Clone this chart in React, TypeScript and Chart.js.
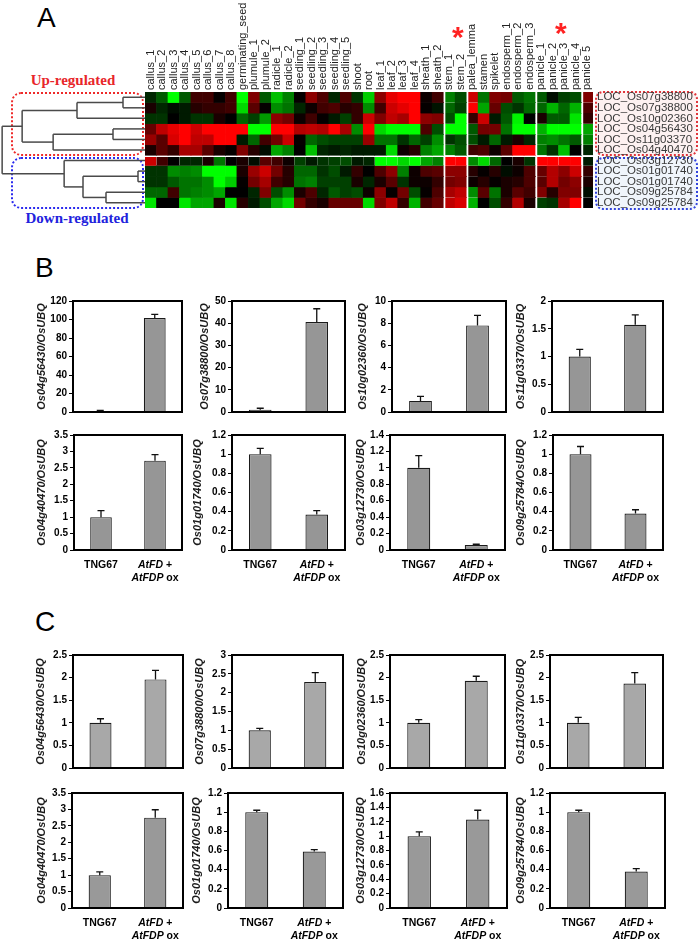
import React, { useEffect, useRef } from 'react';
import { Chart, registerables } from 'chart.js';
Chart.register(...registerables);

const FONT = '"Liberation Sans", Arial, Helvetica, sans-serif';
Chart.defaults.font.family = FONT;
Chart.defaults.color = '#000';

// ---------- Panel A: heatmap data ----------
const tissueLabels = [
  'callus_1', 'callus_2', 'callus_3', 'callus_4', 'callus_5', 'callus_6', 'callus_7', 'callus_8',
  'germinating_seed', 'plumule_1', 'plumule_2', 'radicle_1', 'radicle_2',
  'seedling_1', 'seedling_2', 'seedling_3', 'seedling_4', 'seedling_5', 'shoot', 'root',
  'leaf_1', 'leaf_2', 'leaf_3', 'leaf_4', 'sheath_1', 'sheath_2', 'stem_1', 'stem_2',
  'palea_lemma', 'stamen', 'spikelet', 'endosperm_1', 'endosperm_2', 'endosperm_3',
  'panicle_1', 'panicle_2', 'panicle_3', 'panicle_4', 'panicle 5',
];
const blockStarts = ['stem_1', 'palea_lemma', 'panicle_1', 'panicle 5'];
const geneLabels = [
  'LOC_Os07g38800', 'LOC_Os07g38800', 'LOC_Os10g02360', 'LOC_Os04g56430', 'LOC_Os11g03370', 'LOC_Os04g40470',
  'LOC_Os03g12730', 'LOC_Os01g01740', 'LOC_Os01g01740', 'LOC_Os09g25784', 'LOC_Os09g25784',
];
// relative expression (-1 = strongest green, +1 = strongest red)
const heatRows = [
  [-0.15, -0.35, -1, -0.35, 0.25, 0.25, 0.02, 0.25, -1, 0.5, -0.35, -0.75, -0.5, 0.02, 0.55, 0.3, -0.15, 0.3, -0.2, -0.8, 0.55, 0.9, 1, 1, 0.05, 0.25, -0.5, -0.3, 0.8, -0.45, 0.5, 0.45, -0.35, -0.45, -0.35, -0.05, -0.25, -0.3, 0.5],
  [0.1, -0.15, -0.05, -0.1, 0.15, 0.2, 0.2, 0.25, -0.85, 0.35, 0.02, -0.55, -0.45, -0.15, 0.05, 0.25, 0.3, 0.15, 0.2, -0.55, 0.25, 0.8, 0.9, 1, 0.02, -0.08, -0.4, -0.25, 1, -0.65, 0.4, -0.3, -0.2, -0.4, -0.4, -0.7, -0.4, -0.7, 0.3],
  [-0.2, -0.2, 0, -0.1, -0.2, -0.2, 0.1, 0, -0.4, -0.25, -0.6, 0.55, 0.45, 0.05, 0.25, 0.02, -0.1, -0.25, 0.2, 0.8, 0.5, 0.75, 0.65, 1, 0.55, 0.5, -0.3, -1, 0.2, 0.8, -0.1, -0.35, -0.95, 0, 0.1, -0.35, -0.35, -0.9, 0.2],
  [0.4, 0.75, 0.9, 1, 0.8, 1, 1, 1, 1, -1, -1, 1, 1, 0.7, 0.75, 0.7, 1, 0.65, -0.55, 1, -0.85, -1, -1, -1, 0.3, -0.3, -1, -1, -0.35, 0.45, 0.45, -0.45, -1, -1, -0.7, -1, -1, -1, -0.65],
  [0.6, 0.35, 0.85, 1, 0.75, 0.75, 1, 1, -0.1, -0.4, 0.25, 0.45, 0.8, 0.02, -0.4, -0.3, -0.25, -0.25, -0.25, 0.6, -0.45, -0.45, -0.2, -0.4, -0.25, -0.55, -0.2, -0.3, -0.3, -0.1, -0.4, -0.1, 0.1, -0.15, -0.5, -0.55, -0.45, -0.35, -0.5],
  [0.1, 0.35, 0.2, 0.65, 0.65, 0.35, 0.1, 0.02, 0.5, 0.15, -0.05, -0.65, -0.5, 0, -0.75, -0.15, -0.1, -0.15, -0.1, -0.1, -0.1, -0.85, 0.05, 0.15, -0.5, -0.65, -0.5, -0.35, 0.25, 0.3, 0.05, 0.35, 1, 1, -0.45, -0.2, -0.75, 0, -0.15],
  [0.8, 0.25, 0, -0.15, -0.15, 0.1, -0.45, 0, 0.1, -0.05, 0.35, 0.25, 0.05, -0.25, -0.1, -0.2, -0.25, -0.3, -0.1, -0.15, -1, -1, -0.85, -1, -0.65, -0.5, 1, 1, -0.55, -0.85, -0.4, 0, 0.1, -0.2, 1, 1, 1, 1, -0.1],
  [-0.2, -0.2, -0.55, -0.5, -0.55, -1, -1, -1, 0.1, 0.6, 0.8, 0.45, 0.15, -0.4, -0.4, -0.2, -0.3, -0.1, 0.2, 0, 0.3, 0.55, -0.5, 0.05, 0.3, 0.35, 0.55, 0.55, 0.15, 0.02, 0.15, -0.05, 0.05, 0.3, 0.4, 0.7, 0.55, 0.8, 0.2],
  [-0.2, -0.2, -0.35, -0.45, -0.45, -0.55, -1, -0.8, 0.02, 0.45, 0.65, 0.25, 0.15, -0.45, -0.5, -0.25, -0.25, -0.25, 0.1, -0.15, 0.1, 0.35, -0.2, 0.05, 0.05, 0.2, 0.45, 0.5, 0.05, 0.15, 0.02, 0.1, 0.15, 0.3, 0.35, 0.7, 0.45, 0.55, 0.1],
  [-0.4, -0.4, 0.25, -0.45, -0.5, -0.55, -0.65, 0, 0, -0.15, 0.5, -0.3, -0.55, 0.1, 0.3, -0.15, -0.35, -0.25, -0.3, 0.05, 0.55, 0.02, 0.45, -0.3, 0.02, 0.3, 0.65, 0.75, -0.55, 0.35, -0.45, 0.1, 0.35, 0.25, 0.5, 0.15, 0.5, 0.5, -0.05],
  [-0.9, 0, 0, -0.9, -0.65, -0.65, 0.1, -0.9, 0.15, -0.1, -0.3, -0.65, -0.85, 0.45, 0.2, 0.1, 0.4, 0.4, 0.4, -0.85, 0.5, 0.75, 0.2, -0.7, 0.25, 0.4, 0.75, 0.85, -0.7, 0, -0.3, 0.2, 0.7, 0.1, -0.25, -0.2, 0.65, 1, 0],
];
// dendrogram merges: [childA, childB, merge height]; leaves are rows 0..10
const dendroMerges = [
  [0, 1, 0.154], [11, 2, 0.476], [3, 4, 0.224], [13, 5, 0.643], [12, 14, 0.86],
  [7, 8, 0.049], [9, 10, 0.273], [16, 17, 0.434], [6, 18, 0.566], [15, 19, 1.0],
];

// ---------- Panels B / C: qRT-PCR data ----------
const groupNames = ['TNG67', 'AtFD + AtFDP ox'];
const groupLabelParts = [
  [[['TNG67', false]]],
  [[['AtFD', true], [' +', false]], [['AtFDP', true], [' ox', false]]],
];
const genes = ['Os04g56430', 'Os07g38800', 'Os10g02360', 'Os11g03370', 'Os04g40470', 'Os01g01740', 'Os03g12730', 'Os09g25784'];

const tngB = [1, 1, 1, 1, 1, 1, 1, 1];
const tngErrB = [0.8, 0.7, 0.4, 0.13, 0.2, 0.06, 0.15, 0.08];
const oxB = [101.5, 40.5, 7.8, 1.57, 2.72, 0.37, 0.06, 0.38];
const oxErrB = [4, 6, 0.9, 0.18, 0.18, 0.04, 0.01, 0.04];
const yMaxB = [120, 50, 10, 2, 3.5, 1.2, 1.4, 1.2];
const yStepB = [20, 10, 2, 0.5, 0.5, 0.2, 0.2, 0.2];

const tngC = [1, 1, 1, 1, 1, 1, 1, 1];
const tngErrC = [0.09, 0.05, 0.07, 0.12, 0.1, 0.02, 0.06, 0.02];
const oxC = [1.96, 2.28, 1.93, 1.87, 2.75, 0.59, 1.23, 0.38];
const oxErrC = [0.2, 0.25, 0.1, 0.24, 0.24, 0.02, 0.13, 0.03];
const yMaxC = [2.5, 3, 2.5, 2.5, 3.5, 1.2, 1.6, 1.2];
const yStepC = [0.5, 0.5, 0.5, 0.5, 0.5, 0.2, 0.2, 0.2];

// ---------- layout (pixel geometry, not data) ----------
const geoB = [
  { l: 73, r: 182, t: 301, b: 417, tx: 42 }, { l: 232, r: 345, t: 301, b: 417, tx: 205 },
  { l: 392, r: 506, t: 301, b: 417, tx: 363 }, { l: 552, r: 663, t: 301, b: 417, tx: 521 },
  { l: 74, r: 182, t: 435, b: 550, tx: 42 }, { l: 232, r: 345, t: 435, b: 550, tx: 198 },
  { l: 390, r: 505, t: 435, b: 550, tx: 361 }, { l: 553, r: 663, t: 435, b: 550, tx: 521 },
];
const geoC = [
  { l: 73, r: 183, t: 655, b: 773, tx: 41 }, { l: 232, r: 343, t: 655, b: 773, tx: 200 },
  { l: 390, r: 505, t: 655, b: 773, tx: 362 }, { l: 550, r: 663, t: 655, b: 773, tx: 521 },
  { l: 72, r: 183, t: 793, b: 908, tx: 42 }, { l: 228, r: 343, t: 793, b: 908, tx: 197 },
  { l: 390, r: 507, t: 793, b: 908, tx: 361 }, { l: 550, r: 665, t: 793, b: 908, tx: 521 },
];

function heatColor(v: number) {
  const m = Math.round(Math.min(1, Math.abs(v)) * 255);
  return v >= 0 ? `rgb(${m},0,0)` : `rgb(0,${m},0)`;
}

const HM_LEFT = 125; // canvas left; chart area starts at 145

function Heatmap() {
  const ref = useRef<HTMLCanvasElement>(null);
  useEffect(() => {
    const gapIdx = blockStarts.map((n) => tissueLabels.indexOf(n));
    const datasets = heatRows.map((row, r) => ({
      data: row.map(() => 1),
      backgroundColor: row.map(heatColor),
      borderColor: '#ffffff',
      borderWidth: (ctx: any) => ({
        left: gapIdx.includes(ctx.dataIndex) ? 2 : 0,
        top: r === 6 ? 2 : 0,
        right: 0,
        bottom: 0,
      }),
      borderSkipped: false,
      barPercentage: 1,
      categoryPercentage: 1,
    }));
    const chart = new Chart(ref.current as HTMLCanvasElement, {
      type: 'bar',
      data: { labels: tissueLabels, datasets: datasets as any },
      options: {
        responsive: false,
        animation: false,
        layout: { padding: { top: 0, right: 0, bottom: 4, left: 145 - HM_LEFT } },
        plugins: { legend: { display: false }, tooltip: { enabled: false } },
        scales: {
          x: {
            position: 'top',
            stacked: true,
            grid: { display: false, drawTicks: false },
            border: { display: false },
            ticks: { autoSkip: false, maxRotation: 90, minRotation: 90, padding: 2, labelOffset: 13.2, font: { size: 11 }, color: '#222' },
            afterFit: (s: any) => { s.height = 92; s.paddingLeft = 0; s.paddingRight = 0; },
          },
          y: {
            position: 'right',
            stacked: true,
            min: 0,
            max: 11,
            reverse: true,
            grid: { display: false, drawTicks: false },
            border: { display: false },
            afterBuildTicks: (s: any) => { s.ticks = geneLabels.map((_, i) => ({ value: i + 0.5 })); },
            ticks: { autoSkip: false, callback: (_v: any, i: number) => geneLabels[i], padding: 4, font: { size: 11.5 }, color: '#3a3a3a' },
            afterFit: (s: any) => { s.width = 107; s.paddingTop = 0; s.paddingBottom = 0; },
          },
        },
      } as any,
    });
    return () => chart.destroy();
  }, []);
  const w = 700 - HM_LEFT;
  return <canvas ref={ref} width={w} height={212} style={{ position: 'absolute', left: HM_LEFT, top: 0, width: w, height: 212 }} />;
}

function Dendrogram() {
  const ref = useRef<HTMLCanvasElement>(null);
  useEffect(() => {
    const pos: Record<number, { h: number; y: number }> = {};
    geneLabels.forEach((_, i) => { pos[i] = { h: 0, y: i + 0.5 }; });
    const segs: { x: number; y: number }[][] = [];
    dendroMerges.forEach(([a, b, h], k) => {
      const A = pos[a], B = pos[b];
      segs.push([{ x: A.h, y: A.y }, { x: h, y: A.y }]);
      segs.push([{ x: B.h, y: B.y }, { x: h, y: B.y }]);
      segs.push([{ x: h, y: A.y }, { x: h, y: B.y }]);
      pos[geneLabels.length + k] = { h, y: (A.y + B.y) / 2 };
    });
    const chart = new Chart(ref.current as HTMLCanvasElement, {
      type: 'scatter',
      data: {
        datasets: segs.map((s) => ({
          data: s, showLine: true, borderColor: '#4a4a4a', borderWidth: 1.5, pointRadius: 0, fill: false,
        })),
      },
      options: {
        responsive: false,
        animation: false,
        layout: { padding: 0 },
        plugins: { legend: { display: false }, tooltip: { enabled: false } },
        scales: {
          x: { type: 'linear', min: 0, max: 1.015, reverse: true, display: false },
          y: { type: 'linear', min: 0, max: 11, reverse: true, display: false },
        },
      } as any,
    });
    return () => chart.destroy();
  }, []);
  return <canvas ref={ref} width={145} height={116} style={{ position: 'absolute', left: 0, top: 92, width: 145, height: 116 }} />;
}

type PanelProps = {
  gene: string; tng: number; ox: number; tngErr: number; oxErr: number; max: number; step: number;
  g: { l: number; r: number; t: number; b: number; tx: number }; labels: boolean; color: string;
};

function BarPanel(p: PanelProps) {
  const ref = useRef<HTMLCanvasElement>(null);
  const cl = Math.round(p.g.tx - 6.6);
  const ct = p.g.t - 8;
  const padB = p.labels ? 34 : 3;
  const padR = 3;
  const w = p.g.r - cl + padR;
  const h = p.g.b - ct + padB;
  const axisW = p.g.l - cl;
  useEffect(() => {
    const vals = [p.tng, p.ox];
    const errs = [p.tngErr, p.oxErr];
    const errPlugin = {
      id: 'errbars',
      afterDatasetsDraw(chart: any) {
        const ctx = chart.ctx;
        const ys = chart.scales.y;
        const meta = chart.getDatasetMeta(0);
        ctx.save();
        ctx.strokeStyle = '#111';
        ctx.lineWidth = 1.3;
        meta.data.forEach((bar: any, i: number) => {
          const yTop = ys.getPixelForValue(vals[i] + errs[i]);
          ctx.beginPath();
          ctx.moveTo(bar.x, bar.y);
          ctx.lineTo(bar.x, yTop);
          ctx.moveTo(bar.x - 3.5, yTop);
          ctx.lineTo(bar.x + 3.5, yTop);
          ctx.stroke();
        });
        ctx.restore();
      },
    };
    const framePlugin = {
      id: 'frame',
      afterDraw(chart: any) {
        const { left, top, right, bottom } = chart.chartArea;
        const ctx = chart.ctx;
        ctx.save();
        ctx.strokeStyle = '#000';
        ctx.lineWidth = 2;
        ctx.strokeRect(left, top, right - left, bottom - top);
        ctx.restore();
      },
    };
    const labelPlugin = {
      id: 'catlabels',
      afterDraw(chart: any) {
        const ctx = chart.ctx;
        const xs = chart.scales.x;
        const bottom = chart.chartArea.bottom;
        ctx.save();
        ctx.fillStyle = '#000';
        ctx.textBaseline = 'middle';
        ctx.textAlign = 'left';
        groupLabelParts.forEach((lines, i) => {
          const cx = xs.getPixelForValue(i);
          lines.forEach((parts: any[], j: number) => {
            const fontOf = (it: boolean) => `${it ? 'italic ' : ''}bold 10.5px ${FONT}`;
            let total = 0;
            parts.forEach(([t, it]) => { ctx.font = fontOf(it); total += ctx.measureText(t).width; });
            let x = cx - total / 2;
            const y = bottom + 15 + j * 13;
            parts.forEach(([t, it]) => { ctx.font = fontOf(it); ctx.fillText(t, x, y); x += ctx.measureText(t).width; });
          });
        });
        ctx.restore();
      },
    };
    const chart = new Chart(ref.current as HTMLCanvasElement, {
      type: 'bar',
      data: {
        labels: groupNames,
        datasets: [{
          data: vals, backgroundColor: p.color, borderColor: '#1a1a1a', borderWidth: 1.2,
          barPercentage: 0.4, categoryPercentage: 1,
        }],
      },
      options: {
        responsive: false,
        animation: false,
        layout: { padding: { top: 8, right: padR, bottom: padB, left: 0 } },
        plugins: { legend: { display: false }, tooltip: { enabled: false } },
        scales: {
          x: { display: false },
          y: {
            min: 0,
            max: p.max,
            ticks: {
              stepSize: p.step, autoSkip: false, font: { weight: 'bold', size: 10 }, color: '#000', padding: 2,
              callback: (v: any) => String(Math.round(Number(v) * 100) / 100),
            },
            grid: { display: true, drawOnChartArea: false, drawTicks: true, tickLength: 4, color: '#000', lineWidth: 1 },
            border: { display: false },
            title: {
              display: true, text: `${p.gene}/OsUBQ`, color: '#1a1a1a', padding: 0,
              font: { style: 'italic', weight: 'bold', size: 11 },
            },
            afterFit: (s: any) => { s.width = axisW; },
          },
        },
      } as any,
      plugins: p.labels ? [errPlugin, framePlugin, labelPlugin] : [errPlugin, framePlugin],
    });
    return () => chart.destroy();
  }, []);
  return <canvas ref={ref} width={w} height={h} style={{ position: 'absolute', left: cl, top: ct, width: w, height: h }} />;
}

const abs = (o: any) => ({ position: 'absolute' as const, ...o });

export default function App() {
  useEffect(() => { document.body.style.margin = '0'; }, []);
  const letter = { fontFamily: FONT, fontSize: 28, lineHeight: '28px', color: '#000' };
  return (
    <div style={abs({ left: 0, top: 0, width: 700, height: 940, background: '#fff', overflow: 'hidden' })}>
      <div style={abs({ left: 37, top: 4, ...letter })}>A</div>
      <div style={abs({ left: 35, top: 254, ...letter })}>B</div>
      <div style={abs({ left: 35, top: 608, ...letter })}>C</div>

      {/* dendrogram group boxes */}
      <div style={abs({ left: 11, top: 92, width: 133, height: 64, boxSizing: 'border-box', border: '2px dotted #ee2a2a', borderRadius: 10 })} />
      <div style={abs({ left: 11, top: 157, width: 133, height: 52, boxSizing: 'border-box', border: '2px dotted #2a2aee', borderRadius: 10 })} />
      <div style={abs({ left: 0, top: 71, width: 146, textAlign: 'center', fontFamily: '"Liberation Serif", "Times New Roman", serif', fontWeight: 'bold', fontSize: 15, lineHeight: '18px', color: '#e8262b' })}>Up-regulated</div>
      <div style={abs({ left: 4, top: 209, width: 146, textAlign: 'center', fontFamily: '"Liberation Serif", "Times New Roman", serif', fontWeight: 'bold', fontSize: 15, lineHeight: '18px', color: '#2222dd' })}>Down-regulated</div>

      {/* gene label boxes */}
      <div style={abs({ left: 595, top: 91, width: 103, height: 65, boxSizing: 'border-box', border: '2px dotted #e0353b', borderRadius: 8, background: '#fdf1f1' })} />
      <div style={abs({ left: 595, top: 157, width: 103, height: 53, boxSizing: 'border-box', border: '2px dotted #3344dd', borderRadius: 8, background: '#f0f5fb' })} />

      <Dendrogram />
      <Heatmap />

      <div style={abs({ left: 452, top: 22, fontFamily: FONT, fontWeight: 'bold', fontSize: 30, lineHeight: '30px', color: '#ff2222' })}>*</div>
      <div style={abs({ left: 555, top: 18, fontFamily: FONT, fontWeight: 'bold', fontSize: 30, lineHeight: '30px', color: '#ff2222' })}>*</div>

      {genes.map((gene, i) => (
        <BarPanel key={'B' + i} gene={gene} tng={tngB[i]} ox={oxB[i]} tngErr={tngErrB[i]} oxErr={oxErrB[i]}
          max={yMaxB[i]} step={yStepB[i]} g={geoB[i]} labels={i >= 4} color="#969696" />
      ))}
      {genes.map((gene, i) => (
        <BarPanel key={'C' + i} gene={gene} tng={tngC[i]} ox={oxC[i]} tngErr={tngErrC[i]} oxErr={oxErrC[i]}
          max={yMaxC[i]} step={yStepC[i]} g={geoC[i]} labels={i >= 4} color={i < 4 ? '#a8a8a8' : '#999999'} />
      ))}
    </div>
  );
}
